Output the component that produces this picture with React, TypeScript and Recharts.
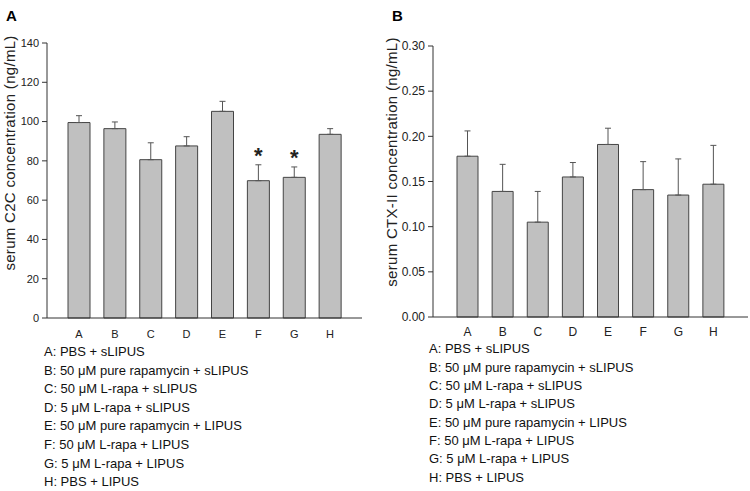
import React from 'react';
import { BarChart, Bar, XAxis, YAxis, ErrorBar, LabelList, Label } from 'recharts';

// groups shown on both panels
const groups = ['A', 'B', 'C', 'D', 'E', 'F', 'G', 'H'];

// panel A: serum C2C (ng/mL)
const c2cMean = [99.5, 96.4, 80.6, 87.6, 105.2, 69.9, 71.6, 93.5];
const c2cSem = [3.5, 3.4, 8.6, 4.7, 5.1, 8.1, 5.3, 2.9];
const c2cSig = ['', '', '', '', '', '*', '*', ''];
const c2cTicks = [0, 20, 40, 60, 80, 100, 120, 140];

// panel B: serum CTX-II (ng/mL)
const ctxMean = [0.178, 0.139, 0.105, 0.155, 0.191, 0.141, 0.135, 0.147];
const ctxSem = [0.028, 0.03, 0.034, 0.016, 0.018, 0.031, 0.04, 0.043];
const ctxTicks = [0, 0.05, 0.1, 0.15, 0.2, 0.25, 0.3];

const groupNames = [
  'A: PBS + sLIPUS',
  'B: 50 \u03bcM pure rapamycin + sLIPUS',
  'C: 50 \u03bcM L-rapa + sLIPUS',
  'D: 5 \u03bcM L-rapa + sLIPUS',
  'E: 50 \u03bcM pure rapamycin + LIPUS',
  'F: 50 \u03bcM L-rapa + LIPUS',
  'G: 5 \u03bcM L-rapa + LIPUS',
  'H: PBS + LIPUS',
];

const FONT = '"Liberation Sans", Arial, sans-serif';
const AXIS = '#333';
const BAR_FILL = '#c0c0c0';

const c2cData = groups.map((g, i) => ({ group: g, value: c2cMean[i], err: [0, c2cSem[i]], sig: c2cSig[i] }));
const ctxData = groups.map((g, i) => ({ group: g, value: ctxMean[i], err: [0, ctxSem[i]] }));

const tickA = { fontSize: 11, fill: '#222', fontFamily: FONT };
const tickB = { fontSize: 12, fill: '#222', fontFamily: FONT };

// asterisk drawn above the error bar cap
const SigMark = (props: any) => {
  const { x, y, width, height, index } = props;
  const sig = c2cSig[index];
  if (!sig) return null;
  const pxPerUnit = height / c2cMean[index];
  const capY = y - c2cSem[index] * pxPerUnit;
  const fs = 22;
  return (
    <text
      x={x + width / 2}
      y={capY - 14.5 + 0.57 * fs}
      textAnchor="middle"
      fontSize={fs}
      fontWeight="bold"
      fontFamily={FONT}
      fill="#222"
    >
      {sig}
    </text>
  );
};

const yTitle = (text: string, x: number, y: number) => (props: any) => (
  <text
    x={x}
    y={y}
    transform={`rotate(-90, ${x}, ${y})`}
    textAnchor="middle"
    fontSize={15}
    fontFamily={FONT}
    fill="#222"
    letterSpacing={0.3}
  >
    {text}
  </text>
);

export default function App() {
  return (
    <div style={{ position: 'absolute', left: 0, top: 0, width: 750, height: 491, background: '#fff', fontFamily: FONT }}>
      <div style={{ position: 'absolute', left: 0, top: 0 }}>
        <BarChart width={370} height={340} data={c2cData} margin={{ top: 43, right: 8, left: 7, bottom: 0 }} barSize={22}>
          <XAxis
            dataKey="group"
            padding={{ left: 14, right: 14 }}
            tickSize={0}
            tickMargin={12}
            height={22}
            tick={tickA}
            axisLine={{ stroke: AXIS }}
          />
          <YAxis
            domain={[0, 140]}
            ticks={c2cTicks}
            width={40}
            tickSize={5}
            tickMargin={3}
            tick={tickA}
            axisLine={{ stroke: AXIS }}
            tickLine={{ stroke: AXIS }}
          >
            <Label content={yTitle('serum C2C concentration (ng/mL)', 15, 153)} />
          </YAxis>
          <Bar dataKey="value" fill={BAR_FILL} stroke="#444" strokeWidth={1} isAnimationActive={false}>
            <ErrorBar dataKey="err" width={3} stroke="#555" strokeWidth={1} direction="y" />
            <LabelList dataKey="sig" content={SigMark} />
          </Bar>
        </BarChart>
      </div>
      <div style={{ position: 'absolute', left: 380, top: 0 }}>
        <BarChart width={370} height={339} data={ctxData} margin={{ top: 46, right: 2, left: 8, bottom: 0 }} barSize={21}>
          <XAxis
            dataKey="group"
            padding={{ left: 17, right: 17 }}
            tickSize={0}
            tickMargin={10}
            height={22}
            tick={tickB}
            axisLine={{ stroke: AXIS }}
          />
          <YAxis
            domain={[0, 0.3]}
            ticks={ctxTicks}
            width={45}
            tickSize={5}
            tickMargin={3}
            tick={tickB}
            tickFormatter={(v: number) => v.toFixed(2)}
            axisLine={{ stroke: AXIS }}
            tickLine={{ stroke: AXIS }}
          >
            <Label content={yTitle('serum CTX-II concentration (ng/mL)', 17, 162)} />
          </YAxis>
          <Bar dataKey="value" fill={BAR_FILL} stroke="#444" strokeWidth={1} isAnimationActive={false}>
            <ErrorBar dataKey="err" width={3} stroke="#555" strokeWidth={1} direction="y" />
          </Bar>
        </BarChart>
      </div>
      <svg width={750} height={491} style={{ position: 'absolute', left: 0, top: 0, pointerEvents: 'none' }}>
        <text x={6} y={21} fontSize={15} fontWeight="bold" fontFamily={FONT} fill="#000">A</text>
        <text x={392} y={21} fontSize={15} fontWeight="bold" fontFamily={FONT} fill="#000">B</text>
        {groupNames.map((t, i) => (
          <text key={'a' + i} x={44} y={356 + i * 18.6} fontSize={13} fontFamily={FONT} fill="#111">
            {t}
          </text>
        ))}
        {groupNames.map((t, i) => (
          <text key={'b' + i} x={429} y={353.3 + i * 18.35} fontSize={13} fontFamily={FONT} fill="#111">
            {t}
          </text>
        ))}
      </svg>
    </div>
  );
}
